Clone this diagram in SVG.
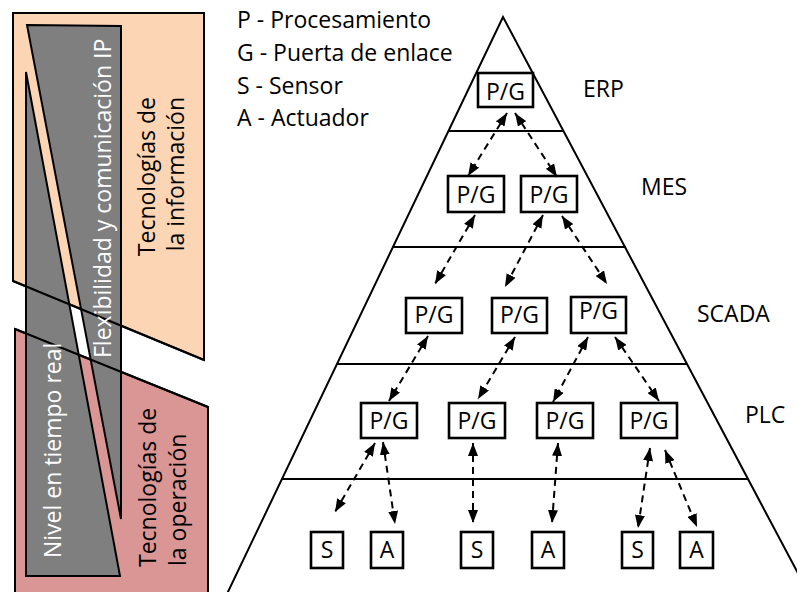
<svg xmlns="http://www.w3.org/2000/svg" width="797" height="592" viewBox="0 0 797 592">
<style>
text{font-family:"Open Sans","Liberation Sans",sans-serif;font-size:23px;fill:#000}
.w{fill:#fff}
.ln{stroke:#000;stroke-width:2;fill:none}
.bx{fill:#fff;stroke:#000;stroke-width:2.6}
.c{text-anchor:middle}
.arr{stroke:#000;stroke-width:2;fill:none;stroke-dasharray:7 5;marker-start:url(#ah);marker-end:url(#ah)}
</style>
<defs>
<marker id="ah" markerUnits="userSpaceOnUse" markerWidth="14" markerHeight="10" refX="13" refY="5" orient="auto-start-reverse">
<path d="M0,0 L13,5 L0,10 z" fill="#000"/>
</marker>
</defs>
<rect width="797" height="592" fill="#fff"/>
<g id="left-bands">
<polygon points="13,13 204,13 204,360 13,281" fill="#FCD5B5" stroke="#000" stroke-width="2"/>
<polygon points="15,329 208,407 208,600 15,600" fill="#D99694" stroke="#000" stroke-width="2"/>
<polygon points="27,25 121,26 121,519" fill="#7F7F7F" stroke="#000" stroke-width="2"/>
<polygon points="26,72 120,576 26,576" fill="#7F7F7F" stroke="#000" stroke-width="2"/>
<line class="ln" x1="13" y1="281" x2="204" y2="360"/>
<line class="ln" x1="15" y1="329" x2="208" y2="407"/>
<text class="w" transform="translate(111,358) rotate(-90)">Flexibilidad y comunicación IP</text>
<text class="w" transform="translate(61,558) rotate(-90)">Nivel en tiempo real</text>
<text transform="translate(155,97) rotate(-90)" text-anchor="end">Tecnologías de</text>
<text transform="translate(184,97) rotate(-90)" text-anchor="end">la información</text>
<text transform="translate(156,567) rotate(-90)">Tecnologías de</text>
<text transform="translate(186,566) rotate(-90)">la operación</text>
</g>
<g id="legend">
<text x="237" y="28">P - Procesamiento</text>
<text x="237" y="61">G - Puerta de enlace</text>
<text x="237" y="94">S - Sensor</text>
<text x="237" y="126">A - Actuador</text>
</g>
<g id="pyramid">
<path class="ln" d="M226,596 L503,17 L810,596"/>
<line class="ln" x1="448" y1="131" x2="563" y2="131"/>
<line class="ln" x1="393" y1="247" x2="626" y2="247"/>
<line class="ln" x1="337" y1="364" x2="687" y2="364"/>
<line class="ln" x1="282" y1="479" x2="748" y2="479"/>
</g>
<g id="level-labels">
<text x="583" y="97">ERP</text>
<text x="641" y="195">MES</text>
<text x="697" y="322">SCADA</text>
<text x="745" y="423">PLC</text>
</g>
<g id="erp-pg"><rect class="bx" x="478" y="73" width="55" height="34"/><text class="c" x="505.5" y="100">P/G</text></g>
<g id="mes-pg1"><rect class="bx" x="448" y="176" width="56" height="36"/><text class="c" x="476" y="203">P/G</text></g>
<g id="mes-pg2"><rect class="bx" x="521" y="176" width="56" height="36"/><text class="c" x="549" y="203">P/G</text></g>
<g id="scada-pg1"><rect class="bx" x="406" y="298" width="56" height="35"/><text class="c" x="434" y="323">P/G</text></g>
<g id="scada-pg2"><rect class="bx" x="492" y="298" width="55" height="35"/><text class="c" x="519.5" y="323">P/G</text></g>
<g id="scada-pg3"><rect class="bx" x="571" y="297" width="55" height="36"/><text class="c" x="598.5" y="319">P/G</text></g>
<g id="plc-pg1"><rect class="bx" x="361" y="403" width="56" height="35"/><text class="c" x="389" y="429">P/G</text></g>
<g id="plc-pg2"><rect class="bx" x="449" y="403" width="56" height="35"/><text class="c" x="477" y="429">P/G</text></g>
<g id="plc-pg3"><rect class="bx" x="537" y="403" width="56" height="35"/><text class="c" x="565" y="429">P/G</text></g>
<g id="plc-pg4"><rect class="bx" x="621" y="403" width="56" height="35"/><text class="c" x="649" y="429">P/G</text></g>
<g id="s1"><rect class="bx" x="311" y="532" width="32" height="36"/><text class="c" x="327" y="558">S</text></g>
<g id="a1"><rect class="bx" x="371" y="532" width="32" height="36"/><text class="c" x="387" y="558">A</text></g>
<g id="s2"><rect class="bx" x="461" y="532" width="32" height="36"/><text class="c" x="477" y="558">S</text></g>
<g id="a2"><rect class="bx" x="532" y="532" width="32" height="36"/><text class="c" x="548" y="558">A</text></g>
<g id="s3"><rect class="bx" x="622" y="532" width="31" height="36"/><text class="c" x="637.5" y="558">S</text></g>
<g id="a3"><rect class="bx" x="680" y="532" width="33" height="36"/><text class="c" x="696.5" y="558">A</text></g>
<g id="connectors">
<line class="arr" x1="507" y1="113" x2="468" y2="176"/>
<line class="arr" x1="515" y1="113" x2="557" y2="177"/>
<line class="arr" x1="475" y1="215" x2="435" y2="284"/>
<line class="arr" x1="543" y1="215" x2="505" y2="287"/>
<line class="arr" x1="562" y1="216" x2="607" y2="284"/>
<line class="arr" x1="428" y1="336" x2="389" y2="401"/>
<line class="arr" x1="515" y1="337" x2="478" y2="399"/>
<line class="arr" x1="588" y1="337" x2="553" y2="402"/>
<line class="arr" x1="615" y1="337" x2="659" y2="401"/>
<line class="arr" x1="375" y1="443" x2="335" y2="512"/>
<line class="arr" x1="383" y1="442" x2="395" y2="524"/>
<line class="arr" x1="473" y1="443" x2="473" y2="523"/>
<line class="arr" x1="558" y1="443" x2="552" y2="523"/>
<line class="arr" x1="650" y1="448" x2="638" y2="528"/>
<line class="arr" x1="665" y1="450" x2="697" y2="527"/>
</g>
</svg>
